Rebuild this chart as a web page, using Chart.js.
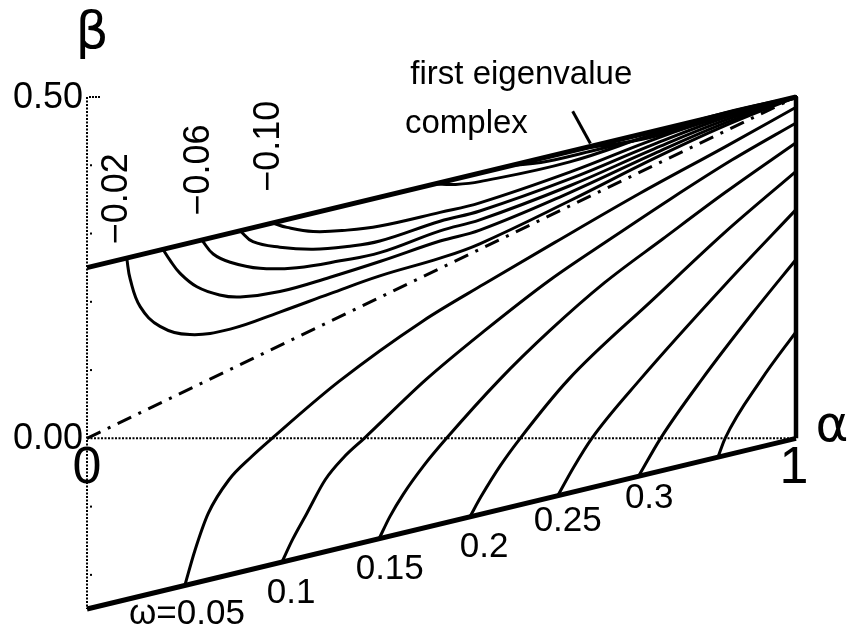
<!DOCTYPE html>
<html>
<head>
<meta charset="utf-8">
<script src="https://cdn.jsdelivr.net/npm/chart.js@4/dist/chart.umd.min.js"></script>
<style>
    html, body { margin: 0; padding: 0; background: #fff; }
    #plot { display: block; }
</style>
</head>
<body>
<canvas id="plot" width="852" height="634"></canvas>
<script>
// Frame of the (alpha, beta) domain
const alphaEnds = [0, 1];
const upperEdge = [0.25, 0.5];     // "first eigenvalue complex" above this line
const lowerEdge = [-0.25, 0];
const diagonal = [0, 0.5];         // dash-dot line beta = alpha / 2

// Axis ticks
const betaTicks = [0.4, 0.3, 0.2, 0.1, -0.1, -0.2];
const betaTickValues = [0.5, 0];
const betaTickLabels = ['0.50', '0.00'];
const alphaTickLabels = ['0', '1'];

// Contours with omega labels (start on the lower edge)
const omegaLabels = ['ω=0.05', '0.1', '0.15', '0.2', '0.25', '0.3'];
const w005 = [[0.138, -0.2155], [0.152, -0.165], [0.171, -0.11], [0.2, -0.061], [0.232, -0.027], [0.261, 0], [0.355, 0.083], [0.474, 0.172], [0.56, 0.226], [0.66, 0.287], [0.78, 0.359], [0.9, 0.427], [1, 0.485]];
const w010 = [[0.275, -0.181], [0.29, -0.148], [0.31, -0.11], [0.336, -0.0606], [0.362, -0.028], [0.391, 0], [0.478, 0.086], [0.56, 0.157], [0.653, 0.232], [0.738, 0.292], [0.822, 0.35], [0.91, 0.408], [1, 0.462]];
const w015 = [[0.412, -0.147], [0.427, -0.115], [0.446, -0.082], [0.475, -0.04], [0.507, 0], [0.582, 0.086], [0.653, 0.158], [0.73, 0.228], [0.812, 0.292], [0.9, 0.36], [1, 0.433]];
const w020 = [[0.54, -0.115], [0.556, -0.085], [0.583, -0.04], [0.611, 0], [0.679, 0.086], [0.8, 0.205], [0.9, 0.302], [1, 0.391]];
const w025 = [[0.664, -0.084], [0.686, -0.043], [0.712, 0], [0.78, 0.086], [0.9, 0.225], [1, 0.335]];
const w030 = [[0.778, -0.0555], [0.809, 0], [0.867, 0.086], [0.94, 0.185], [1, 0.262]];
const w035 = [[0.89, -0.0275], [0.9, 0], [0.951, 0.086], [1, 0.156]];

// Contours with negative labels (start on the upper edge)
const eigenLabels = ['−0.02', '−0.06', '−0.10'];
const e002 = [[0.056, 0.264], [0.061, 0.233], [0.075, 0.193], [0.103, 0.164], [0.145, 0.152], [0.202, 0.16], [0.272, 0.185], [0.343, 0.212], [0.413, 0.238], [0.498, 0.264], [0.554, 0.285], [0.681, 0.348], [0.8, 0.41], [0.9, 0.458], [1, 0.5]];
const e004 = [[0.107, 0.277], [0.117, 0.261], [0.131, 0.242], [0.155, 0.222], [0.187, 0.21], [0.216, 0.207], [0.272, 0.215], [0.343, 0.236], [0.413, 0.259], [0.498, 0.289], [0.554, 0.305], [0.681, 0.36], [0.8, 0.417], [0.9, 0.462], [1, 0.5]];
const e006 = [[0.162, 0.2905], [0.178, 0.27], [0.202, 0.258], [0.244, 0.249], [0.296, 0.25], [0.357, 0.26], [0.413, 0.272], [0.498, 0.304], [0.554, 0.32], [0.681, 0.37], [0.8, 0.424], [0.9, 0.466], [1, 0.5]];
const e008 = [[0.216, 0.304], [0.234, 0.288], [0.272, 0.28], [0.319, 0.277], [0.367, 0.281], [0.413, 0.289], [0.498, 0.318], [0.554, 0.333], [0.681, 0.38], [0.8, 0.431], [0.9, 0.47], [1, 0.5]];
const e010 = [[0.262, 0.3155], [0.282, 0.309], [0.319, 0.303], [0.367, 0.305], [0.413, 0.311], [0.498, 0.331], [0.554, 0.345], [0.681, 0.39], [0.8, 0.438], [0.9, 0.473], [1, 0.5]];
const e012 = [[0.49, 0.3725], [0.52, 0.372], [0.554, 0.376], [0.681, 0.405], [0.8, 0.446], [0.9, 0.477], [1, 0.5]];
const e014 = [[0.6, 0.4], [0.64, 0.404], [0.7, 0.418], [0.8, 0.444], [0.9, 0.4735], [1, 0.5]];
const e016 = [[0.7, 0.425], [0.75, 0.432], [0.8, 0.442], [0.9, 0.472], [1, 0.5]];

// Leader line for the "first eigenvalue complex" note
const pointer = [[0.685, 0.479], [0.71, 0.432]];

const toPoints = pairs => pairs.map(([a, b]) => ({ x: a, y: b }));

function lineSet(pairs, width, extra) {
    return Object.assign({
        data: toPoints(pairs),
        showLine: true,
        borderColor: '#000',
        borderWidth: width,
        pointRadius: 0,
        tension: 0,
        clip: false,
        fill: false
    }, extra || {});
}

// lower family rises monotonically, upper family dips then rises
const omegaCurve = pairs => lineSet(pairs, 3, { cubicInterpolationMode: 'monotone', borderCapStyle: 'round' });
const eigenCurve = pairs => lineSet(pairs, 3, { tension: 0.4, borderCapStyle: 'round' });

const datasets = [
    lineSet([[alphaEnds[0], upperEdge[1]], [alphaEnds[0], lowerEdge[0]]], 2, { borderDash: [2, 1.5] }),
    lineSet([[alphaEnds[0], 0], [alphaEnds[1], 0]], 2, { borderDash: [2, 1.5] }),
    lineSet([[alphaEnds[0], diagonal[0]], [alphaEnds[1], diagonal[1]]], 3, { borderDash: [15, 8, 3, 8] }),
    omegaCurve(w005), omegaCurve(w010), omegaCurve(w015), omegaCurve(w020), omegaCurve(w025), omegaCurve(w030), omegaCurve(w035),
    eigenCurve(e002), eigenCurve(e004), eigenCurve(e006), eigenCurve(e008), eigenCurve(e010), eigenCurve(e012), eigenCurve(e014), eigenCurve(e016),
    lineSet([[alphaEnds[0], upperEdge[0]], [alphaEnds[1], upperEdge[1]]], 5),
    lineSet([[alphaEnds[0], lowerEdge[0]], [alphaEnds[1], lowerEdge[1]]], 5),
    lineSet([[alphaEnds[1], lowerEdge[1]], [alphaEnds[1], upperEdge[1]]], 4.5),
    lineSet(pointer, 3)
];

// Text and tick marks, placed through the chart scales
const annotationPlugin = {
    id: 'annotations',
    afterDatasetsDraw(chart) {
        const ctx = chart.ctx;
        const xs = chart.scales.x;
        const ys = chart.scales.y;
        const px = a => xs.getPixelForValue(a);
        const py = b => ys.getPixelForValue(b);
        const font = '"Liberation Sans", Arial, sans-serif';

        ctx.save();
        ctx.fillStyle = '#000';

        // minor ticks on the beta axis
        betaTicks.forEach(b => ctx.fillRect(px(0) + 3, py(b) - 1, 2, 2));
        for (let i = 0; i < 4; i++) ctx.fillRect(px(0) + 2 + i * 3, py(0.5) - 1, 2, 2);

        // beta tick labels
        ctx.font = '36px ' + font;
        ctx.textAlign = 'right';
        ctx.textBaseline = 'middle';
        betaTickValues.forEach((b, i) => ctx.fillText(betaTickLabels[i], px(0) - 4, py(b) + 1));

        // alpha tick labels
        ctx.font = '52px ' + font;
        ctx.textAlign = 'center';
        ctx.textBaseline = 'middle';
        ctx.fillText(alphaTickLabels[0], px(0), py(0) + 30);
        ctx.fillText(alphaTickLabels[1], px(1) - 2, py(0) + 30);

        // axis names
        ctx.font = '50px "DejaVu Sans", sans-serif';
        ctx.fillText('α', px(1) + 36, py(0) - 10);
        ctx.font = '52px "DejaVu Sans", sans-serif';
        ctx.fillText('β', px(0) + 5, 34);

        // omega labels below the lower edge
        const omegaSpots = [[0.141, -0.2565], [0.288, -0.225], [0.427, -0.19], [0.56, -0.1575], [0.678, -0.1195], [0.793, -0.087]];
        ctx.font = '35px ' + font;
        omegaLabels.forEach((t, i) => ctx.fillText(t, px(omegaSpots[i][0]), py(omegaSpots[i][1]) + 1));

        // rotated negative labels above the upper edge
        const eigenSpots = [[0.041, 0.351], [0.157, 0.393], [0.255, 0.428]];
        ctx.font = '36px ' + font;
        eigenLabels.forEach((t, i) => {
            ctx.save();
            ctx.translate(px(eigenSpots[i][0]), py(eigenSpots[i][1]));
            ctx.rotate(-Math.PI / 2);
            ctx.fillText(t, 0, 1);
            ctx.restore();
        });

        // note
        ctx.font = '33px ' + font;
        ctx.textAlign = 'left';
        ctx.textBaseline = 'alphabetic';
        ctx.fillText('first eigenvalue', px(0.456), py(0.519));
        ctx.fillText('complex', px(0.4485), py(0.447));

        ctx.restore();
    }
};

new Chart(document.getElementById('plot'), {
    type: 'scatter',
    data: { datasets: datasets },
    options: {
        responsive: false,
        animation: false,
        devicePixelRatio: 1,
        events: [],
        layout: { padding: { left: 87, right: 56, top: 97, bottom: 25 } },
        plugins: {
            legend: { display: false },
            tooltip: { enabled: false }
        },
        scales: {
            x: { type: 'linear', min: 0, max: 1, display: false },
            y: { type: 'linear', min: -0.25, max: 0.5, display: false }
        }
    },
    plugins: [annotationPlugin]
});
</script>
</body>
</html>
